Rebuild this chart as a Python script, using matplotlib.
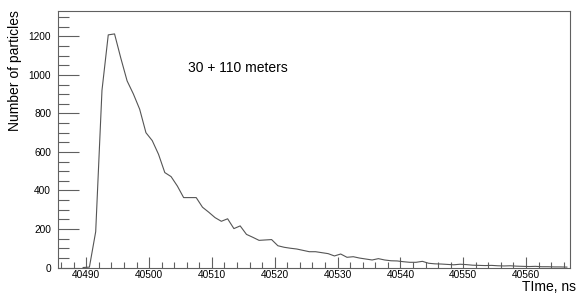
import numpy as np
import matplotlib
matplotlib.use("Agg")
import matplotlib.pyplot as plt
from matplotlib.ticker import MultipleLocator

plt.rcParams['font.family'] = ['Liberation Sans', 'DejaVu Sans']

# Histogram: 1 ns bins, first bin starts at 40489 ns
first_bin = 40489
counts = [0, 2, 186, 920, 1208, 1213, 1087, 969, 901, 822,
          700, 659, 588, 493, 472, 423, 363, 363, 363, 313,
          287, 259, 240, 253, 202, 216, 172, 157, 141, 143,
          145, 113, 105, 100, 96, 89, 82, 82, 77, 72,
          60, 70, 53, 56, 49, 44, 39, 46, 39, 35,
          34, 30, 27, 27, 32, 22, 19, 18, 16, 14,
          17, 15, 12, 11, 10, 11, 9, 8, 9, 7,
          6, 5, 6, 4, 4, 3, 3, 2]
centers = first_bin + 0.5 + np.arange(len(counts))

x_range = (40485.5, 40567.0)
y_range = (0, 1332)
x_major = 10
x_minor = 2
y_major = 200
y_minor = 50

title_text = "30 + 110 meters"
x_label = "TIme, ns"
y_label = "Number of particles"

fig = plt.figure(figsize=(5.78, 2.93), dpi=100)
ax = fig.add_axes([58/578, 1 - 267.5/293, (570-58)/578, (267.5-11)/293])

ax.plot(centers, counts, color='#555555', lw=0.8)
ax.set_xlim(*x_range)
ax.set_ylim(*y_range)

ax.xaxis.set_major_locator(MultipleLocator(x_major))
ax.xaxis.set_minor_locator(MultipleLocator(x_minor))
ax.yaxis.set_major_locator(MultipleLocator(y_major))
ax.yaxis.set_minor_locator(MultipleLocator(y_minor))
ax.ticklabel_format(useOffset=False, style='plain')

spine_c = '#606060'
for s in ax.spines.values():
    s.set_color(spine_c)
    s.set_linewidth(0.8)

ax.tick_params(axis='x', which='major', direction='in', length=8, width=0.8,
               color=spine_c, labelsize=7.3, pad=2, top=False)
ax.tick_params(axis='x', which='minor', direction='in', length=4, width=0.8,
               color=spine_c, top=False)
ax.tick_params(axis='y', which='major', direction='in', length=15, width=0.8,
               color=spine_c, labelsize=7.3, pad=5, right=False)
ax.tick_params(axis='y', which='minor', direction='in', length=8, width=0.8,
               color=spine_c, right=False)

fig.text(188/578, 1 - 68/293, title_text, fontsize=10, ha='left', va='center')
fig.text(576/578, 1 - 287/293, x_label, fontsize=10, ha='right', va='center')
fig.text(15/578, 1 - 10/293, y_label, fontsize=10, ha='center', va='top',
         rotation=90)

fig.savefig("out.png", dpi=100)
